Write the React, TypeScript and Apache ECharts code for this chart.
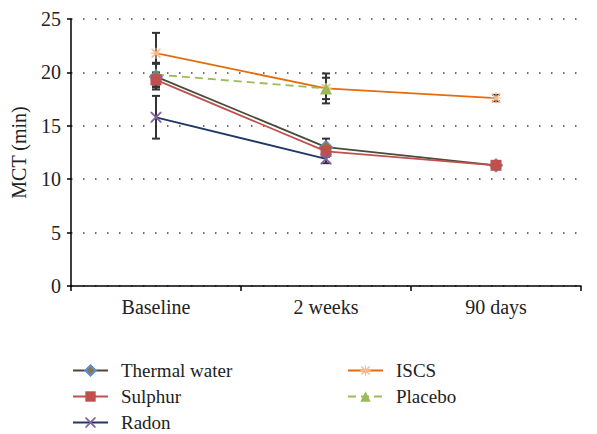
import React, { useEffect, useRef } from "react";
import * as echarts from "echarts";

const categories = ["Baseline", "2 weeks", "90 days"];

const thermal = [19.6, 13.0, 11.3];
const thermalErr = [1.2, 0.8, 0.1];
const sulphur = [19.3, 12.6, 11.3];
const sulphurErr = [0.7, 0.5, 0.2];
const radon = [15.8, 11.9, null];
const radonErr = [2.0, 0.4, 0];
const iscs = [21.8, 18.5, 17.6];
const iscsErr = [1.9, 1.4, 0.3];
const placebo = [19.8, 18.5, null];
const placeboErr = [1.1, 1.0, 0];

const FONT = "'Liberation Serif', 'DejaVu Serif', serif";

const xPath =
  "path://M0,0 L1.2,0 L5,3.8 L8.8,0 L10,0 L10,1.2 L6.2,5 L10,8.8 L10,10 L8.8,10 L5,6.2 L1.2,10 L0,10 L0,8.8 L3.8,5 L0,1.2 Z";
const starPath =
  "path://M0,0 L1.2,0 L5,3.8 L8.8,0 L10,0 L10,1.2 L6.2,5 L10,8.8 L10,10 L8.8,10 L5,6.2 L1.2,10 L0,10 L0,8.8 L3.8,5 L0,1.2 Z M4.4,-1 L5.6,-1 L5.6,11 L4.4,11 Z M-1,4.4 L11,4.4 L11,5.6 L-1,5.6 Z";

function errItems(vals: (number | null)[], errs: number[]) {
  const out: number[][] = [];
  vals.forEach((v, i) => {
    if (v !== null && errs[i] > 0) out.push([i, v - errs[i], v + errs[i]]);
  });
  return out;
}

export default function App() {
  const ref = useRef<HTMLDivElement>(null);
  useEffect(() => {
    if (!ref.current) return;
    const chart = echarts.init(ref.current, undefined, { renderer: "svg" });
    const errData = [
      ...errItems(iscs, iscsErr),
      ...errItems(thermal, thermalErr),
      ...errItems(sulphur, sulphurErr),
      ...errItems(radon, radonErr),
      ...errItems(placebo, placeboErr),
    ];
    const legendText = { fontFamily: FONT, fontSize: 19, color: "#222", lineHeight: 19, padding: [0, 0, 0, 8] };
    chart.setOption({
      animation: false,
      backgroundColor: "#fff",
      textStyle: { fontFamily: FONT },
      grid: { left: 71, top: 19, right: 16, bottom: 148, containLabel: false },
      legend: [
        {
          data: ["Thermal water", "Sulphur", "Radon"],
          orient: "vertical",
          left: 72,
          top: 361,
          height: 100,
          padding: 0,
          itemWidth: 35,
          itemHeight: 13,
          itemGap: 7,
          textStyle: legendText,
        },
        {
          data: ["ISCS", "Placebo"],
          orient: "vertical",
          left: 347,
          top: 361,
          height: 100,
          padding: 0,
          itemWidth: 35,
          itemHeight: 13,
          itemGap: 7,
          textStyle: legendText,
        },
      ],
      xAxis: {
        type: "category",
        data: categories,
        boundaryGap: true,
        axisLine: { lineStyle: { color: "#000", width: 1.5 } },
        axisTick: { show: true, length: 5, lineStyle: { color: "#000", width: 1.5 } },
        axisLabel: { fontFamily: FONT, fontSize: 20, color: "#222", margin: 11 },
        splitLine: { show: false },
      },
      yAxis: {
        type: "value",
        min: 0,
        max: 25,
        interval: 5,
        name: "MCT (min)",
        nameLocation: "middle",
        nameGap: 42,
        nameTextStyle: { fontFamily: FONT, fontSize: 20, color: "#222" },
        axisLine: { show: true, lineStyle: { color: "#000", width: 1.5 } },
        axisTick: { show: true, length: 4, lineStyle: { color: "#000", width: 1.5 } },
        axisLabel: { fontFamily: FONT, fontSize: 20, color: "#222", margin: 10 },
        splitLine: {
          show: true,
          lineStyle: { color: "#444", width: 1.5, type: [1.5, 10.5] },
        },
      },
      series: [
        {
          type: "custom",
          name: "err",
          z: 1,
          silent: true,
          renderItem: (params: any, api: any) => {
            const i = api.value(0);
            const lo = api.coord([i, api.value(1)]);
            const hi = api.coord([i, api.value(2)]);
            const w = 4;
            const style = { stroke: "#333", lineWidth: 2 };
            return {
              type: "group",
              children: [
                { type: "line", shape: { x1: lo[0], y1: lo[1], x2: hi[0], y2: hi[1] }, style },
                { type: "line", shape: { x1: lo[0] - w, y1: lo[1], x2: lo[0] + w, y2: lo[1] }, style },
                { type: "line", shape: { x1: hi[0] - w, y1: hi[1], x2: hi[0] + w, y2: hi[1] }, style },
              ],
            };
          },
          encode: { x: 0, y: [1, 2] },
          data: errData,
        },
        {
          name: "ISCS",
          type: "line",
          z: 3,
          data: iscs,
          symbol: starPath,
          symbolSize: 11,
          lineStyle: { color: "#e46c0a", width: 1.8 },
          itemStyle: { color: "#f9b98a" },
        },
        {
          name: "Placebo",
          type: "line",
          z: 3,
          data: placebo,
          symbol: "triangle",
          symbolSize: 12,
          lineStyle: { color: "#9bbb59", width: 1.8, type: [8, 5] },
          itemStyle: { color: "#9bbb59" },
        },
        {
          name: "Thermal water",
          type: "line",
          z: 4,
          data: thermal,
          symbol: "diamond",
          symbolSize: 13,
          lineStyle: { color: "#4a4a3a", width: 1.8 },
          itemStyle: { color: "#8c7a3c", borderColor: "#5b8fd0", borderWidth: 1.2 },
        },
        {
          name: "Sulphur",
          type: "line",
          z: 5,
          data: sulphur,
          symbol: "rect",
          symbolSize: 11,
          lineStyle: { color: "#c0504d", width: 1.8 },
          itemStyle: { color: "#c0504d" },
        },
        {
          name: "Radon",
          type: "line",
          z: 5,
          data: radon,
          symbol: xPath,
          symbolSize: 11,
          lineStyle: { color: "#1f3864", width: 1.8 },
          itemStyle: { color: "#8064a2" },
        },
      ],
    });
    return () => chart.dispose();
  }, []);
  return <div ref={ref} style={{ width: 597, height: 434, position: "absolute", left: 0, top: 0 }} />;
}
